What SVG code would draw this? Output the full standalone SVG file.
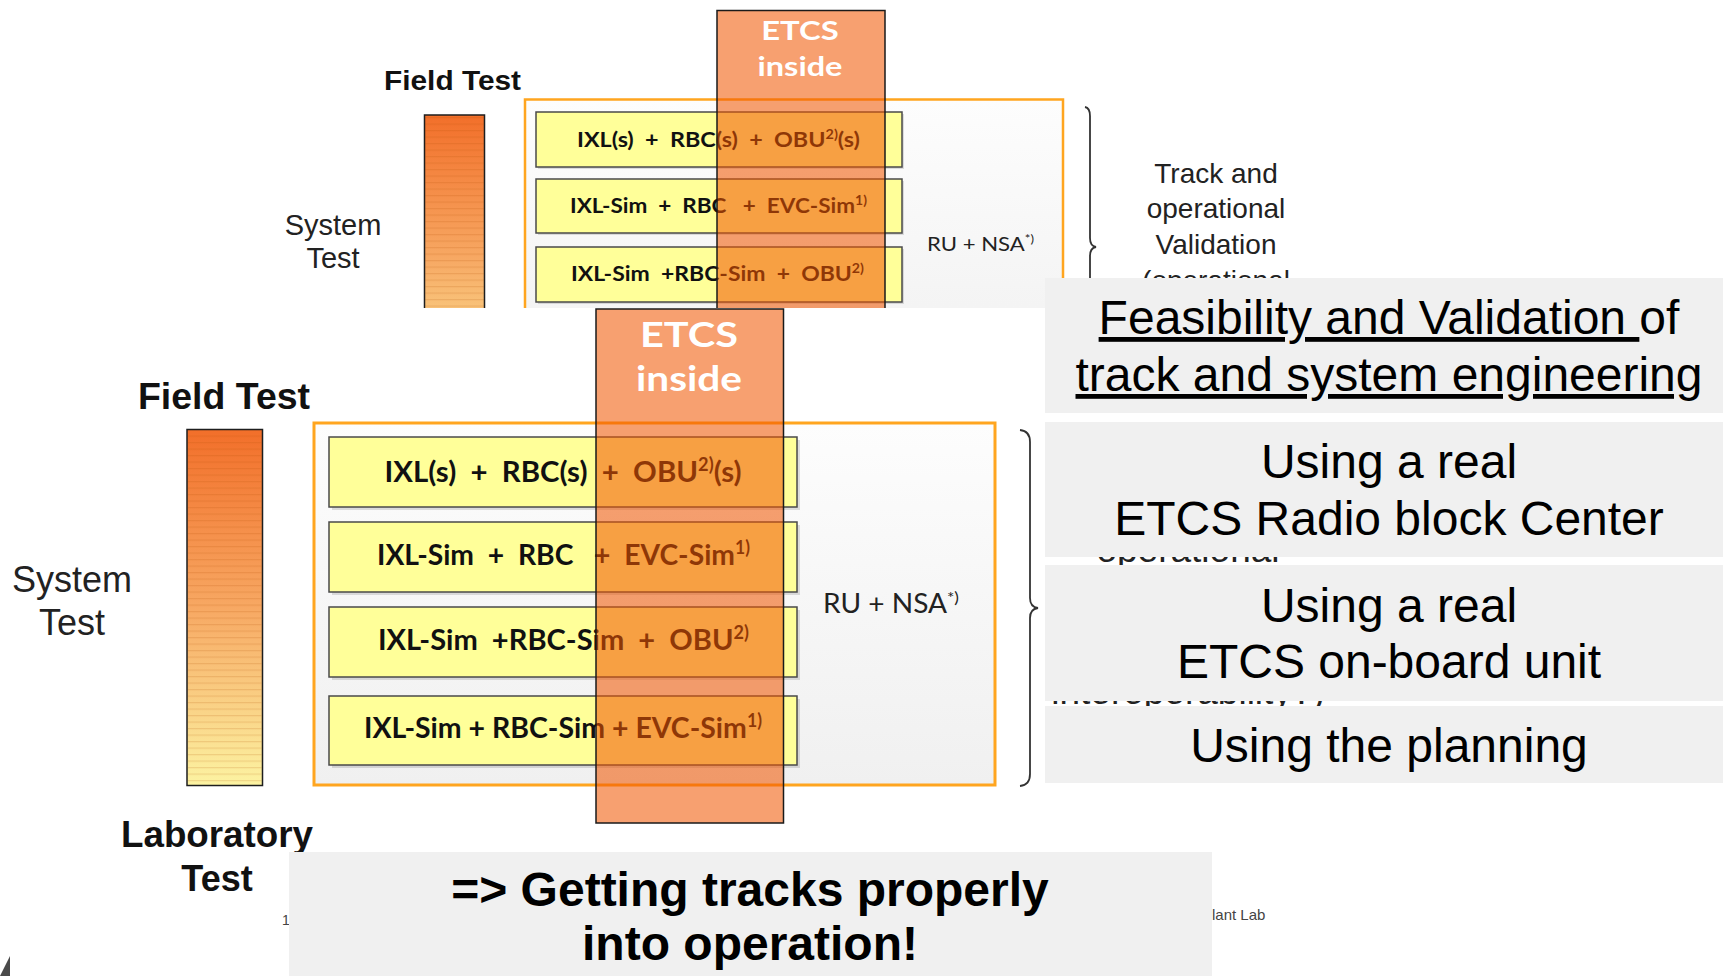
<svg xmlns="http://www.w3.org/2000/svg" width="1723" height="976" viewBox="0 0 1723 976">
<defs>
<style>
.row{fill:#FFFF99;stroke:#4a4a4a;stroke-width:1.5}
.shadow{fill:#000;fill-opacity:0.12}
.rt{font-family:Lato,"Liberation Sans",sans-serif;font-weight:700;fill:#111}
.ru{font-family:Lato,"Liberation Sans",sans-serif;font-weight:400;fill:#222}
.col{fill:#F15600;fill-opacity:0.56;stroke:#1a1a1a;stroke-width:1.5}
.etcs{font-family:Lato,"Liberation Sans",sans-serif;font-weight:700;fill:#fff;text-anchor:middle}
.box{fill:url(#boxg);stroke:#FFA51F}
.bar{fill:url(#barg);stroke:#1e1e1e;stroke-width:1.5}
.bold{font-family:"Liberation Sans",Arial,sans-serif;font-weight:700;fill:#111;text-anchor:middle}
.reg{font-family:"Liberation Sans",Arial,sans-serif;font-weight:400;fill:#222;text-anchor:middle}
.brace{fill:none;stroke:#333;stroke-width:1.8}
.panel{fill:#F0F0F0}
.pt{font-family:"Liberation Sans",Arial,sans-serif;font-size:48px;fill:#000;text-anchor:middle}
.pb{font-family:"Liberation Sans",Arial,sans-serif;font-size:48px;font-weight:700;fill:#000;text-anchor:middle}
.ul{text-decoration:underline;text-decoration-skip-ink:none}
.foot{font-family:"Liberation Sans",Arial,sans-serif;fill:#444}
</style>
<linearGradient id="barg" x1="0" y1="0" x2="0" y2="1">
<stop offset="0" stop-color="#F26F2A"/>
<stop offset="0.5" stop-color="#F7A863"/>
<stop offset="1" stop-color="#FCF3A2"/>
</linearGradient>
<linearGradient id="boxg" x1="0" y1="0" x2="0" y2="1">
<stop offset="0" stop-color="#FDFDFD"/>
<stop offset="1" stop-color="#F0F0F0"/>
</linearGradient>
<pattern id="stripes" width="10" height="6.5" patternUnits="userSpaceOnUse">
<rect x="0" y="0" width="10" height="1.2" fill="#B04A00" fill-opacity="0.16"/>
</pattern>
</defs>

<rect x="0" y="0" width="1723" height="976" fill="#fff"/>

<!-- Upper (small) slide -->
<g id="upper-slide">
<text class="bold" x="452.5" y="90" font-size="28" textLength="137" lengthAdjust="spacingAndGlyphs">Field Test</text>
<text class="reg" x="333" y="235" font-size="29">System</text>
<text class="reg" x="333" y="268" font-size="29">Test</text>
<g id="upper-bar">
<rect class="bar" x="424.5" y="115" width="60" height="285"/>
<rect x="425" y="116" width="59" height="283" fill="url(#stripes)"/>
</g>
<rect id="upper-box" class="box" stroke-width="2.5" x="525" y="99.5" width="538" height="300"/>
<g id="upper-row1">
<rect class="shadow" x="538" y="114" width="366" height="55"/>
<rect class="row" x="536" y="112" width="366" height="55"/>
<text class="rt" xml:space="preserve" x="577" y="147" font-size="21" textLength="283" lengthAdjust="spacingAndGlyphs">IXL(s)  +  RBC(s)  +  OBU<tspan dy="-8" font-size="13">2)</tspan><tspan dy="8">(s)</tspan></text>
</g>
<g id="upper-row2">
<rect class="shadow" x="538" y="181" width="366" height="54"/>
<rect class="row" x="536" y="179" width="366" height="54"/>
<text class="rt" xml:space="preserve" x="570" y="213" font-size="21" textLength="297" lengthAdjust="spacingAndGlyphs">IXL-Sim  +  RBC   +  EVC-Sim<tspan dy="-8" font-size="13">1)</tspan></text>
</g>
<g id="upper-row3">
<rect class="shadow" x="538" y="249" width="366" height="55"/>
<rect class="row" x="536" y="247" width="366" height="55"/>
<text class="rt" xml:space="preserve" x="571" y="281" font-size="21" textLength="293" lengthAdjust="spacingAndGlyphs">IXL-Sim  +RBC-Sim  +  OBU<tspan dy="-8" font-size="13">2)</tspan></text>
</g>
<text class="ru" x="927" y="251" font-size="20" textLength="107" lengthAdjust="spacingAndGlyphs">RU + NSA<tspan dy="-8" font-size="12">*)</tspan></text>
<g id="upper-etcs">
<rect class="col" x="717" y="10.5" width="168" height="400"/>
<text class="etcs" x="800" y="40" font-size="27" textLength="77.5" lengthAdjust="spacingAndGlyphs">ETCS</text>
<text class="etcs" x="800" y="76" font-size="27" textLength="85" lengthAdjust="spacingAndGlyphs">inside</text>
</g>
<path class="brace" d="M1085,107 Q1090,108 1090,116 L1090,238 Q1090,246 1096,247 Q1090,248 1090,256 L1090,378 Q1090,386 1085,387"/>
<g id="upper-right-text">
<text class="reg" x="1216" y="183" font-size="28">Track and</text>
<text class="reg" x="1216" y="218" font-size="28">operational</text>
<text class="reg" x="1216" y="254" font-size="28">Validation</text>
<text class="reg" x="1216" y="290" font-size="28">(operational</text>
</g>
</g>

<!-- Lower (large) slide -->
<g id="lower-slide">
<rect x="0" y="308" width="1723" height="668" fill="#fff"/>
<text class="bold" x="224" y="409" font-size="36" textLength="172" lengthAdjust="spacingAndGlyphs">Field Test</text>
<text class="reg" x="72" y="592" font-size="36">System</text>
<text class="reg" x="72" y="635" font-size="36">Test</text>
<g id="lower-bar">
<rect class="bar" x="187" y="429.5" width="75.5" height="356"/>
<rect x="188" y="430.5" width="73.5" height="354" fill="url(#stripes)"/>
</g>
<rect id="lower-box" class="box" stroke-width="3" x="314" y="423" width="681" height="362"/>
<g id="lower-row1">
<rect class="shadow" x="332" y="440" width="468" height="70"/>
<rect class="row" x="329" y="437" width="468" height="70"/>
<text class="rt" xml:space="preserve" x="384.6" y="482" font-size="29" textLength="357" lengthAdjust="spacingAndGlyphs">IXL(s)  +  RBC(s)  +  OBU<tspan dy="-11" font-size="18">2)</tspan><tspan dy="11">(s)</tspan></text>
</g>
<g id="lower-row2">
<rect class="shadow" x="332" y="525" width="468" height="70"/>
<rect class="row" x="329" y="522" width="468" height="70"/>
<text class="rt" xml:space="preserve" x="377" y="565" font-size="29" textLength="373" lengthAdjust="spacingAndGlyphs">IXL-Sim  +  RBC   +  EVC-Sim<tspan dy="-11" font-size="18">1)</tspan></text>
</g>
<g id="lower-row3">
<rect class="shadow" x="332" y="610" width="468" height="70"/>
<rect class="row" x="329" y="607" width="468" height="70"/>
<text class="rt" xml:space="preserve" x="378" y="650" font-size="29" textLength="371" lengthAdjust="spacingAndGlyphs">IXL-Sim  +RBC-Sim  +  OBU<tspan dy="-11" font-size="18">2)</tspan></text>
</g>
<g id="lower-row4">
<rect class="shadow" x="332" y="699" width="468" height="69"/>
<rect class="row" x="329" y="696" width="468" height="69"/>
<text class="rt" x="364" y="738" font-size="29" textLength="398" lengthAdjust="spacingAndGlyphs">IXL-Sim + RBC-Sim + EVC-Sim<tspan dy="-11" font-size="18">1)</tspan></text>
</g>
<text class="ru" x="823" y="613" font-size="26" textLength="136" lengthAdjust="spacingAndGlyphs">RU + NSA<tspan dy="-10" font-size="16">*)</tspan></text>
<g id="lower-etcs">
<rect class="col" x="596" y="309" width="187.5" height="514"/>
<text class="etcs" x="689" y="347" font-size="35" textLength="98" lengthAdjust="spacingAndGlyphs">ETCS</text>
<text class="etcs" x="689" y="391" font-size="35" textLength="106" lengthAdjust="spacingAndGlyphs">inside</text>
</g>
<path class="brace" d="M1020,430 Q1030,431 1030,442 L1030,598 Q1030,607 1038,608 Q1030,609 1030,618 L1030,774 Q1030,785 1020,786"/>
<g id="lower-right-text">
<text class="reg" x="1188" y="562" font-size="37">operational</text>
<text class="reg" x="1188" y="704" font-size="37">interoperability?)</text>
</g>
<text class="bold" x="217" y="847" font-size="36" textLength="192" lengthAdjust="spacingAndGlyphs">Laboratory</text>
<text class="bold" x="217" y="891" font-size="36">Test</text>
<text class="foot" x="282" y="925" font-size="14">1</text>
<text class="foot" x="1212" y="920" font-size="15">lant Lab</text>
<polygon points="0,976 10,956 10,976" fill="#4a4a4a"/>
</g>

<!-- Overlay panels -->
<g id="panel-feasibility">
<rect class="panel" x="1045" y="278" width="678" height="135"/>
<text class="pt" xml:space="preserve" x="1389" y="334"><tspan class="ul">Feasibility and Validation </tspan>of</text>
<text class="pt ul" x="1389" y="391">track and system engineering</text>
</g>
<g id="panel-rbc">
<rect class="panel" x="1045" y="422" width="678" height="135"/>
<text class="pt" x="1389" y="478">Using a real</text>
<text class="pt" x="1389" y="535">ETCS Radio block Center</text>
</g>
<g id="panel-obu">
<rect class="panel" x="1045" y="565" width="678" height="136"/>
<text class="pt" x="1389" y="622">Using a real</text>
<text class="pt" x="1389" y="678">ETCS on-board unit</text>
</g>
<g id="panel-planning">
<rect class="panel" x="1045" y="706" width="678" height="77"/>
<text class="pt" x="1389" y="762">Using the planning</text>
</g>
<g id="panel-conclusion">
<rect class="panel" x="289" y="852" width="923" height="124"/>
<text class="pb" x="750" y="906">=&gt; Getting tracks properly</text>
<text class="pb" x="750" y="960">into operation!</text>
</g>
</svg>
